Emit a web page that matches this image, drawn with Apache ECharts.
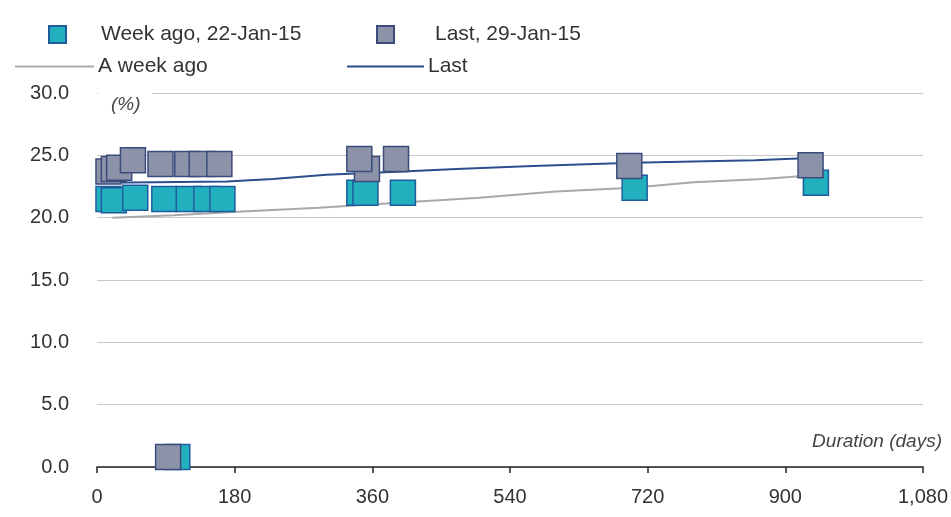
<!DOCTYPE html>
<html>
<head>
<meta charset="utf-8">
<script src="https://cdn.jsdelivr.net/npm/echarts@6/dist/echarts.min.js"></script>
<style>
html,body{margin:0;padding:0;background:#fff;}
#chart{width:951px;height:517px;}
</style>
</head>
<body>
<div id="chart"></div>
<script>
// Scatter: week ago (22-Jan-15)
const weekAgoDays  = [15, 22, 50, 88, 120, 143, 164, 343, 351, 400, 703, 940, 105];
const weekAgoYield = [21.5, 21.4, 21.6, 21.5, 21.5, 21.5, 21.5, 22.0, 22.0, 22.0, 22.4, 22.8, 0.8];
// Scatter: last (29-Jan-15)
const lastDays  = [15, 22, 29, 83, 47, 118, 137, 160, 353, 343, 391, 696, 933, 93];
const lastYield = [23.7, 23.9, 24.0, 24.3, 24.6, 24.3, 24.3, 24.3, 23.9, 24.7, 24.7, 24.15, 24.2, 0.8];
// Curve: a week ago
const curveWeekDays  = [20, 100, 190, 290, 420, 500, 600, 700, 780, 870, 937];
const curveWeekYield = [20.0, 20.2, 20.5, 20.8, 21.3, 21.6, 22.1, 22.4, 22.85, 23.1, 23.4];
// Curve: last
const curveLastDays  = [10, 170, 230, 300, 400, 470, 570, 700, 860, 940];
const curveLastYield = [22.8, 22.9, 23.1, 23.45, 23.7, 23.9, 24.15, 24.4, 24.6, 24.8];
// Axis ticks
const xTicks = [0, 180, 360, 540, 720, 900, 1080];
const yTicks = [0, 5, 10, 15, 20, 25, 30];

const zip = (a, b) => a.map((v, i) => [v, b[i]]);
const FONT = 'Liberation Sans';
const legendText = pad => ({fontSize: 21, color: '#333', fontFamily: FONT, padding: [0, 0, 0, pad]});

const chart = echarts.init(document.getElementById('chart'), null, {renderer: 'canvas'});
chart.setOption({
  animation: false,
  backgroundColor: '#ffffff',
  textStyle: {fontFamily: FONT},
  grid: {left: 97, right: 26, top: 93, bottom: 50, containLabel: false},
  legend: [
    {data: ['Week ago, 22-Jan-15'], left: 43, top: 19, itemWidth: 17, itemHeight: 17, textStyle: legendText(30)},
    {data: ['Last, 29-Jan-15'], left: 371, top: 19, itemWidth: 17, itemHeight: 17, textStyle: legendText(36)},
    {data: ['A week ago'], left: 10, top: 51, icon: 'rect', itemWidth: 79, itemHeight: 2, textStyle: legendText(-1)},
    {data: ['Last'], left: 342, top: 51, icon: 'rect', itemWidth: 77, itemHeight: 2, textStyle: legendText(-1)}
  ],
  xAxis: {
    type: 'value', min: xTicks[0], max: xTicks[xTicks.length - 1], interval: 180,
    axisLine: {show: true, lineStyle: {color: '#222', width: 1.5}},
    axisTick: {show: true, inside: false, length: 6, lineStyle: {color: '#222', width: 1.5}},
    splitLine: {show: false},
    axisLabel: {fontSize: 20, color: '#333', margin: 20, fontFamily: FONT,
      formatter: v => v.toLocaleString('en-US')}
  },
  yAxis: {
    type: 'value', min: yTicks[0], max: yTicks[yTicks.length - 1], interval: 5,
    axisLine: {show: false}, axisTick: {show: false},
    splitLine: {show: true, lineStyle: {color: '#c8c8c8', width: 1}},
    axisLabel: {fontSize: 20, color: '#333', margin: 28, fontFamily: FONT,
      formatter: v => v.toFixed(1)}
  },
  graphic: [
    {type: 'rect', left: 98, top: 90, shape: {width: 54, height: 6}, style: {fill: '#fff'}, z: 10},
    {type: 'text', left: 111, top: 95, style: {text: '(%)', fontSize: 19, fontStyle: 'italic', fill: '#444', fontFamily: FONT}, z: 11},
    {type: 'text', right: 9, top: 432, style: {text: 'Duration (days)', fontSize: 19, fontStyle: 'italic', fill: '#444', fontFamily: FONT}, z: 11}
  ],
  series: [
    {
      name: 'A week ago', type: 'line', data: zip(curveWeekDays, curveWeekYield),
      symbol: 'none', lineStyle: {color: '#a9a9a9', width: 2}, itemStyle: {color: '#a9a9a9'}, z: 2
    },
    {
      name: 'Last', type: 'line', data: zip(curveLastDays, curveLastYield),
      symbol: 'none', lineStyle: {color: '#2b4f8e', width: 2}, itemStyle: {color: '#2b4f8e'}, z: 2
    },
    {
      name: 'Week ago, 22-Jan-15', type: 'scatter', symbol: 'rect', symbolSize: 25,
      data: zip(weekAgoDays, weekAgoYield),
      itemStyle: {color: '#22b0bf', borderColor: '#1f5c9e', borderWidth: 1.5, opacity: 1}, z: 3
    },
    {
      name: 'Last, 29-Jan-15', type: 'scatter', symbol: 'rect', symbolSize: 25,
      data: zip(lastDays, lastYield),
      itemStyle: {color: '#8c93a8', borderColor: '#3b4c7c', borderWidth: 1.5, opacity: 1}, z: 4
    }
  ]
});
</script>
</body>
</html>
